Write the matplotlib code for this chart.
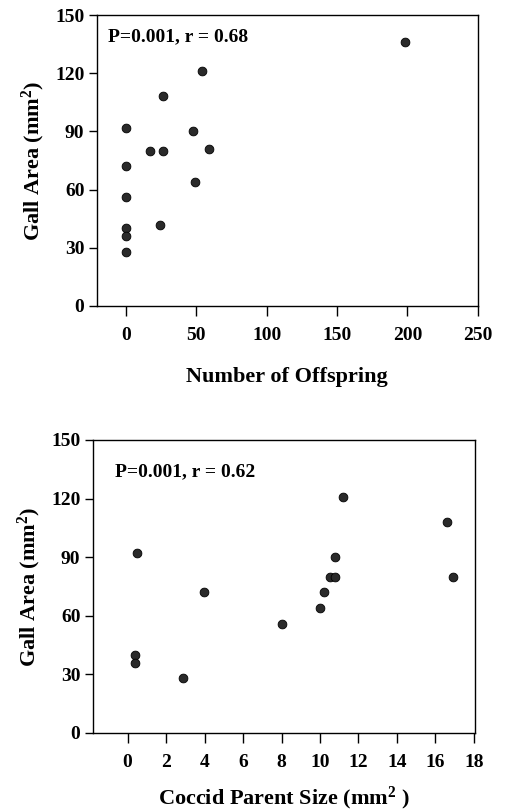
"""
Gall area vs. offspring count and coccid parent size
Two stacked scatter panels in a journal-figure style
"""

import matplotlib
matplotlib.use("Agg")
import matplotlib.pyplot as plt

# top panel: number of offspring vs gall area
offspring = [198, 54, 26, 0, 48, 17, 26, 59, 0, 49, 0, 24, 0, 0, 0]
gall_area_top = [136, 121, 108, 92, 90, 80, 80, 81, 72, 64, 56, 42, 40, 36, 28]

# bottom panel: coccid parent size vs gall area
parent_size = [0.5, 0.4, 0.4, 2.9, 3.95, 8.0, 10.0, 10.2, 10.5, 10.8, 10.8, 11.2, 16.6, 16.9]
gall_area_bottom = [92, 40, 36, 28, 72, 56, 64, 72, 80, 80, 90, 121, 108, 80]

x_ticks_top = [0, 50, 100, 150, 200, 250]
x_ticks_bottom = [0, 2, 4, 6, 8, 10, 12, 14, 16, 18]
y_ticks = [0, 30, 60, 90, 120, 150]

stats_top = "P=0.001, r = 0.68"
stats_bottom = "P=0.001, r = 0.62"

plt.rcParams["font.family"] = ["Liberation Serif", "DejaVu Serif"]
plt.rcParams["font.weight"] = "bold"
plt.rcParams["mathtext.fontset"] = "custom"
plt.rcParams["mathtext.rm"] = "Liberation Serif:bold"
plt.rcParams["mathtext.bf"] = "Liberation Serif:bold"
plt.rcParams["mathtext.it"] = "Liberation Serif:bold"
plt.rcParams["mathtext.default"] = "bf"


def style_axis(ax, xticks, xlim, stats_text, text_pos, xlabel, xpad):
    ax.set_ylim(0, 150)
    ax.set_xlim(*xlim)
    ax.set_yticks(y_ticks)
    ax.set_xticks(xticks)
    ax.tick_params(axis="both", direction="out", length=7, width=1,
                   labelsize=14, pad=8)
    ax.tick_params(axis="y", length=6, pad=3)
    for lab in ax.get_xticklabels() + ax.get_yticklabels():
        lab.set_fontweight("bold")
    for sp in ax.spines.values():
        sp.set_linewidth(1)
    ax.set_ylabel("Gall Area (mm$^{2}$)", fontsize=16, fontweight="bold",
                  labelpad=6)
    ax.set_xlabel(xlabel, fontsize=16, fontweight="bold", labelpad=xpad)
    ax.text(text_pos[0], text_pos[1], stats_text, transform=ax.transAxes,
            fontsize=14, fontweight="bold", va="center", ha="left")


fig = plt.figure(figsize=(5.05, 8.11), dpi=100)

ax1 = fig.add_axes([0.192, 0.6227, 0.754, 0.3588])
ax1.plot(offspring, gall_area_top, "o", color="#2a2a2a", markersize=6.3,
         markeredgecolor="black", markeredgewidth=0.6)
style_axis(ax1, x_ticks_top, (-20.6, 250), stats_top, (0.029, 0.924),
           "Number of Offspring", 17)

ax2 = fig.add_axes([0.184, 0.0962, 0.7564, 0.3613])
ax2.plot(parent_size, gall_area_bottom, "o", color="#2a2a2a", markersize=6.3,
         markeredgecolor="black", markeredgewidth=0.6)
style_axis(ax2, x_ticks_bottom, (-1.8, 18.05), stats_bottom, (0.058, 0.892),
           "Coccid Parent Size (mm$^{2}$ )", 10)

fig.savefig("out.png", dpi=100)
